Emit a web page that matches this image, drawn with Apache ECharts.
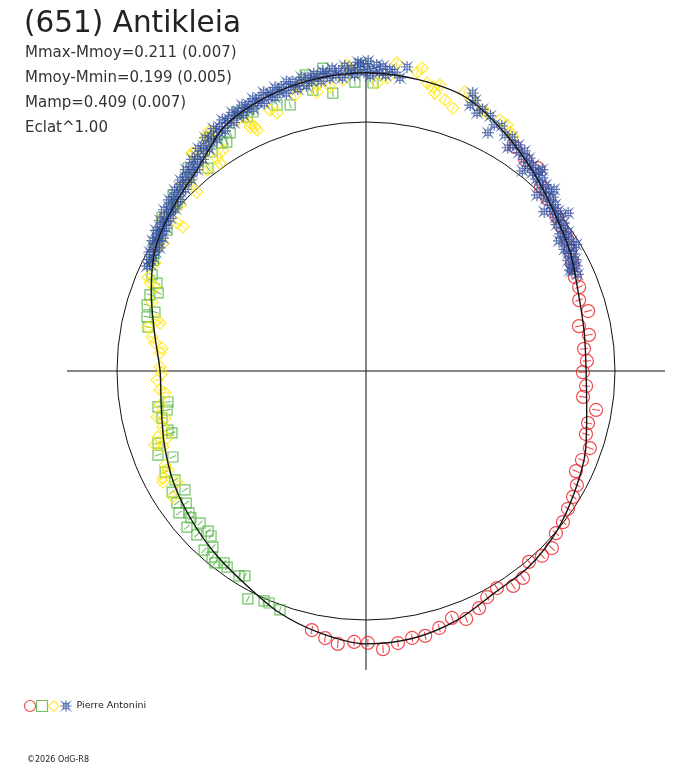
<!DOCTYPE html>
<html>
<head>
<meta charset="utf-8">
<title>(651) Antikleia</title>
<script src="https://cdn.jsdelivr.net/npm/echarts@6.0.0/dist/echarts.min.js"></script>
<style>
  html, body { margin: 0; padding: 0; background: #fff; }
  #chart { width: 688px; height: 768px; }
</style>
</head>
<body>
<div id="chart"></div>
<script>
// polar lightcurve: angle in degrees (counterclockwise from +x), radius = relative flux (1 = reference circle)
const fitAngle = [0, 10, 20, 30, 40, 50, 60, 70, 80, 90, 100, 110, 120, 130, 140, 150, 160, 170,
  180, 190, 200, 210, 220, 230, 240, 250, 260, 270, 280, 290, 300, 310, 320, 330, 340, 350];
const fitFlux = [0.884, 0.890, 0.908, 0.948, 0.988, 1.044, 1.108, 1.170, 1.189, 1.198, 1.190, 1.170,
  1.135, 1.055, 1.015, 0.978, 0.918, 0.862, 0.827, 0.835, 0.862, 0.893, 0.920, 0.950, 0.982, 1.030,
  1.068, 1.096, 1.090, 1.066, 1.030, 1.022, 1.000, 0.968, 0.938, 0.900];

// [angle, flux]
const sessionCircle = [
  [56.4, 1.080], [53.0, 1.062], [49.7, 1.068], [46.5, 1.020], [43.5, 1.004], [39.0, 0.985], [36.5, 0.975],
  [33.5, 0.968], [30.5, 0.950], [27.5, 0.935], [24.2, 0.920], [21.5, 0.920], [18.4, 0.902], [15.1, 0.924],
  [11.9, 0.874], [9.2, 0.907], [5.8, 0.880], [2.6, 0.888], [359.7, 0.871], [356.1, 0.886], [353.2, 0.878],
  [350.4, 0.937], [346.8, 0.916], [344.0, 0.919], [341.0, 0.951], [337.6, 0.938], [334.5, 0.934],
  [331.6, 0.963], [328.7, 0.973], [325.7, 0.982], [322.5, 0.997], [319.5, 1.003], [316.4, 1.031],
  [313.6, 1.025], [310.5, 1.008], [307.2, 1.043], [304.4, 1.046], [301.1, 1.018], [298.2, 1.030],
  [295.5, 1.055], [292.0, 1.074], [289.2, 1.050], [285.9, 1.073], [282.6, 1.090], [279.8, 1.088],
  [276.7, 1.100], [273.5, 1.119], [270.4, 1.092], [267.5, 1.089], [264.1, 1.102], [261.3, 1.085],
  [258.2, 1.063]
];

const sessionSquare = [
  [88.6, 1.157], [90.6, 1.229], [92.2, 1.161], [96.8, 1.124], [98.1, 1.229], [100.7, 1.148], [101.6, 1.214],
  [105.9, 1.111], [108.5, 1.126], [113.6, 1.135], [115.1, 1.126], [116.3, 1.160], [119.7, 1.101],
  [121.3, 1.076], [122.3, 1.083], [125.1, 1.075], [127.9, 1.033], [131.2, 1.084], [132.8, 1.057],
  [137.6, 1.049], [138.2, 1.018], [140.0, 1.017], [143.0, 1.026], [144.7, 0.979], [146.8, 0.998],
  [149.5, 0.985], [152.5, 0.962], [155.8, 0.942], [157.2, 0.911], [159.4, 0.892], [160.6, 0.920],
  [163.2, 0.918], [164.4, 0.880], [166.1, 0.906], [168.6, 0.893],
  [188.9, 0.805], [189.8, 0.848], [191.1, 0.814], [193.0, 0.841], [196.6, 0.830], [197.7, 0.818],
  [199.1, 0.884], [202.0, 0.901], [204.0, 0.849], [206.7, 0.903], [209.7, 0.883], [212.0, 0.918],
  [213.3, 0.870], [214.9, 0.926], [216.3, 0.896], [217.2, 0.943], [218.7, 0.911], [220.0, 0.918],
  [221.1, 0.954], [222.5, 0.904], [224.1, 0.946], [225.4, 0.903], [226.8, 0.909], [227.9, 0.970],
  [229.0, 0.937], [230.4, 0.970], [231.8, 0.981], [233.5, 0.959], [234.7, 0.965], [238.2, 0.968],
  [239.4, 0.956], [242.6, 1.031], [246.1, 1.010], [247.3, 1.010], [250.2, 1.020]
];

const sessionDiamond = [
  [57.9, 1.110], [58.9, 1.120], [60.2, 1.139], [61.9, 1.143], [64.9, 1.144], [66.0, 1.147], [68.6, 1.169],
  [70.5, 1.189], [71.7, 1.112], [73.7, 1.134], [75.5, 1.186], [76.1, 1.150], [76.7, 1.172], [78.0, 1.182],
  [79.5, 1.237], [80.3, 1.218], [84.3, 1.243], [85.9, 1.180], [87.8, 1.157], [93.0, 1.211], [93.6, 1.231],
  [94.5, 1.172], [97.2, 1.149], [99.7, 1.165], [100.0, 1.137], [103.1, 1.171], [104.4, 1.144],
  [109.0, 1.096], [110.2, 1.117], [114.3, 1.062], [114.5, 1.077], [115.1, 1.100], [115.4, 1.085],
  [117.2, 1.133], [122.7, 1.136], [122.9, 1.057], [123.4, 1.150], [123.8, 1.126], [124.6, 1.137],
  [125.0, 1.044], [125.1, 1.020], [127.0, 1.087], [128.3, 1.029], [128.4, 1.117], [128.6, 1.120],
  [133.1, 1.034], [133.4, 0.989], [134.5, 1.048], [138.2, 1.001], [141.8, 0.935], [141.9, 0.964],
  [143.0, 1.021], [147.8, 0.964], [149.3, 0.976], [152.9, 0.952], [156.7, 0.953], [157.8, 0.937],
  [158.3, 0.912], [162.1, 0.903], [166.3, 0.864], [166.9, 0.849], [168.6, 0.893], [171.0, 0.870],
  [172.4, 0.855], [173.6, 0.824], [175.0, 0.830], [178.9, 0.827], [180.6, 0.819], [182.5, 0.840],
  [185.3, 0.831], [186.2, 0.812], [189.4, 0.838], [192.4, 0.859], [193.2, 0.829], [195.4, 0.846],
  [197.6, 0.876], [198.6, 0.843], [199.3, 0.898], [200.5, 0.871], [205.1, 0.891], [206.6, 0.889],
  [207.8, 0.922], [208.7, 0.929], [210.4, 0.880], [213.1, 0.926]
];

const sessionStar = [
  [24.5, 0.935], [25.8, 0.918], [26.3, 0.914], [26.5, 0.945], [27.3, 0.930], [28.0, 0.952], [28.6, 0.925],
  [29.4, 0.958], [30.1, 0.940], [30.9, 0.962], [31.0, 0.985], [31.5, 0.935], [32.2, 0.975], [33.0, 0.950],
  [33.8, 0.968], [34.0, 0.935], [34.5, 0.985], [35.2, 0.955], [36.0, 0.978], [36.8, 0.992], [37.5, 0.965],
  [38.0, 1.030], [38.3, 0.998], [39.0, 0.980], [39.8, 1.005], [40.6, 0.985], [41.3, 1.012], [41.8, 0.960],
  [42.0, 0.995], [42.9, 1.025], [43.7, 1.000], [44.0, 1.050], [44.5, 1.030], [45.2, 1.012], [45.8, 0.985],
  [46.0, 1.040], [46.9, 1.022], [47.6, 1.050], [48.4, 1.030], [48.8, 1.075], [49.2, 1.060], [50.0, 1.040],
  [50.9, 1.065], [51.7, 1.048], [52.0, 1.020], [52.5, 1.078], [53.3, 1.060], [54.2, 1.090], [55.0, 1.072],
  [56.0, 1.095], [57.0, 1.082], [57.6, 1.062], [58.0, 1.108], [59.5, 1.100], [61.0, 1.125], [62.5, 1.115],
  [62.9, 1.075], [64.0, 1.140], [66.0, 1.150], [66.7, 1.128], [68.0, 1.172], [68.6, 1.147], [69.0, 1.196],
  [82.3, 1.232], [83.4, 1.185], [84.5, 1.206],
  [85.5, 1.215], [86.2, 1.190], [86.8, 1.225], [87.4, 1.200], [88.0, 1.230], [88.6, 1.205], [89.2, 1.185],
  [89.6, 1.245], [89.8, 1.222], [90.4, 1.200], [91.0, 1.235], [91.5, 1.240], [91.6, 1.210], [92.2, 1.190],
  [92.8, 1.218], [93.4, 1.200], [94.0, 1.228], [94.6, 1.182], [95.2, 1.210], [95.8, 1.195], [96.4, 1.222],
  [97.0, 1.185], [97.6, 1.205], [98.2, 1.215], [98.8, 1.178], [99.4, 1.198], [100.0, 1.212], [100.6, 1.185],
  [101.2, 1.200], [101.8, 1.170], [102.4, 1.208], [103.0, 1.188], [103.6, 1.165], [104.2, 1.198],
  [104.8, 1.178], [105.4, 1.205], [106.0, 1.160], [106.6, 1.190], [107.2, 1.172], [107.8, 1.195],
  [108.4, 1.158], [109.0, 1.182], [109.6, 1.168], [110.2, 1.192], [110.8, 1.150], [111.4, 1.178],
  [112.0, 1.160], [112.6, 1.185], [113.2, 1.145], [113.8, 1.170], [114.4, 1.155], [115.0, 1.178],
  [115.6, 1.138], [116.2, 1.162], [116.8, 1.148], [117.4, 1.170], [118.0, 1.130], [118.6, 1.155],
  [119.2, 1.140], [119.8, 1.162], [120.4, 1.118], [121.0, 1.145], [121.6, 1.125], [122.2, 1.150],
  [122.8, 1.105], [123.4, 1.130], [124.0, 1.112], [124.6, 1.138], [125.2, 1.090], [125.8, 1.115],
  [126.4, 1.098], [127.0, 1.120], [127.6, 1.072], [128.2, 1.095], [128.8, 1.078], [129.4, 1.100],
  [130.0, 1.055], [130.6, 1.080], [131.2, 1.060], [131.8, 1.085], [132.4, 1.040], [133.0, 1.065],
  [133.6, 1.048], [134.2, 1.070], [134.8, 1.028], [135.4, 1.052], [136.0, 1.035], [136.6, 1.058],
  [137.2, 1.015], [137.8, 1.042], [138.4, 1.025], [139.0, 1.048], [139.6, 1.005], [140.2, 1.030],
  [140.8, 1.012], [141.4, 1.038], [142.0, 0.995], [142.6, 1.020], [143.2, 1.002], [143.8, 1.025],
  [144.4, 0.985], [145.0, 1.010], [145.6, 0.992], [146.2, 1.015], [146.8, 0.975], [147.4, 0.998],
  [148.0, 0.982], [148.6, 1.005], [149.2, 0.965], [149.8, 0.988], [150.5, 0.970], [151.2, 0.992],
  [152.0, 0.965], [152.8, 0.978], [153.6, 0.968], [154.4, 0.975]
];

const sessionNames = ['Pierre Antonini 1', 'Pierre Antonini 2', 'Pierre Antonini 3', 'Pierre Antonini 4'];
const observer = 'Pierre Antonini';
const statLines = ['Mmax-Mmoy=0.211 (0.007)', 'Mmoy-Mmin=0.199 (0.005)', 'Mamp=0.409 (0.007)', 'Eclat^1.00'];

const RED = '#ec1f26', GREEN = '#4fb33d', YELLOW = '#ffe600', BLUE = '#34509f';
const STAR = 'path://M-0.6,-0.6 Q0,-0.15 0.6,-0.6 Q0.15,0 0.6,0.6 Q0,0.15 -0.6,0.6 Q-0.15,0 -0.6,-0.6 Z M0,-1 L0,1 M-1,0 L1,0';
const FONT = 'DejaVu Sans';
const CENTER = [366, 371];
const REF_R = 249; // reference circle (flux 1) in px

const toPolar = pts => pts.map(p => [p[1], p[0]]);
const ticks = pts => pts.map(p => ({ value: [p[1], p[0]], symbolRotate: p[0] - 90 }));

const fitData = fitAngle.map((a, i) => [fitFlux[i], a]);
fitData.push([fitFlux[0], 360]);

function shapeSeries(name, pts, symbol, size, color) {
  return {
    type: 'scatter', name, coordinateSystem: 'polar', polarIndex: 0,
    data: toPolar(pts), symbol, symbolSize: size, clip: false, silent: true,
    itemStyle: { color: 'none', borderColor: color, borderWidth: 1.2 }, z: 3
  };
}
function tickSeries(pts, color, len) {
  return {
    type: 'scatter', coordinateSystem: 'polar', polarIndex: 0,
    data: ticks(pts), symbol: 'rect', symbolSize: [1.1, len], clip: false, silent: true,
    itemStyle: { color }, z: 3
  };
}
const hiddenAxis = { axisLine: { show: false }, axisTick: { show: false }, axisLabel: { show: false }, splitLine: { show: false } };

const chart = echarts.init(document.getElementById('chart'));
chart.setOption({
  backgroundColor: '#fff',
  animation: false,
  polar: [
    { center: CENTER, radius: REF_R },
    { center: CENTER, radius: 299 },
    { center: CENTER, radius: 340 }
  ],
  angleAxis: [
    { polarIndex: 0, type: 'value', min: 0, max: 360, startAngle: 0, clockwise: false,
      axisLine: { show: true, lineStyle: { color: '#111', width: 1 } },
      axisTick: { show: false }, axisLabel: { show: false }, splitLine: { show: false } },
    { polarIndex: 1, type: 'value', min: 0, max: 360, interval: 90, startAngle: 0, clockwise: false,
      axisLine: { show: false }, axisTick: { show: false }, axisLabel: { show: false },
      splitLine: { show: true, lineStyle: { color: '#111', width: 1 } } },
    Object.assign({ polarIndex: 2, type: 'value', min: 0, max: 360, startAngle: 0, clockwise: false }, hiddenAxis)
  ],
  radiusAxis: [
    Object.assign({ polarIndex: 0, type: 'value', min: 0, max: 1 }, hiddenAxis),
    Object.assign({ polarIndex: 1, type: 'value', min: 0, max: 299 / REF_R }, hiddenAxis),
    Object.assign({ polarIndex: 2, type: 'value', min: 0, max: 340 / REF_R }, hiddenAxis)
  ],
  legend: {
    left: 22, top: 698, padding: 0, itemWidth: 11, itemHeight: 11, itemGap: -4,
    selectedMode: false,
    data: [
      { name: sessionNames[0], icon: 'circle', itemStyle: { color: 'none', borderColor: RED, borderWidth: 1.2 } },
      { name: sessionNames[1], icon: 'rect', itemStyle: { color: 'none', borderColor: GREEN, borderWidth: 1.2 } },
      { name: sessionNames[2], icon: 'diamond', itemStyle: { color: 'none', borderColor: YELLOW, borderWidth: 1.2 } },
      { name: sessionNames[3], icon: STAR, itemStyle: { color: 'none', borderColor: BLUE, borderWidth: 1.2 } }
    ],
    formatter: n => (n === sessionNames[3] ? observer : ''),
    textStyle: { fontFamily: FONT, fontSize: 9.5, color: '#222' }
  },
  graphic: [
    { type: 'text', x: 24, y: 24.5, style: { text: '(651) Antikleia', fontFamily: FONT, fontSize: 29.5,
      fill: '#222', verticalAlign: 'middle', textVerticalAlign: 'middle' } },
    ...statLines.map((t, i) => ({ type: 'text', x: 25, y: 53.5 + 25 * i,
      style: { text: t, fontFamily: FONT, fontSize: 15, fill: '#333', verticalAlign: 'middle', textVerticalAlign: 'middle' } })),
    { type: 'text', x: 27, y: 760, style: { text: '©2026 OdG-R8', fontFamily: FONT, fontSize: 8,
      fill: '#222', verticalAlign: 'middle', textVerticalAlign: 'middle' } }
  ],
  series: [
    shapeSeries(sessionNames[0], sessionCircle, 'circle', 13, RED),
    tickSeries(sessionCircle, RED, 8),
    shapeSeries(sessionNames[1], sessionSquare, 'rect', 10, GREEN),
    tickSeries(sessionSquare, GREEN, 7),
    shapeSeries(sessionNames[2], sessionDiamond, 'diamond', 12, YELLOW),
    tickSeries(sessionDiamond, YELLOW, 7),
    shapeSeries(sessionNames[3], sessionStar, STAR, 12, BLUE),
    {
      type: 'line', name: 'fit', coordinateSystem: 'polar', polarIndex: 2,
      data: fitData, symbol: 'none', showSymbol: false, smooth: 0.3, clip: false, silent: true,
      lineStyle: { color: '#151515', width: 1.4 }, z: 5
    }
  ]
});
</script>
</body>
</html>
